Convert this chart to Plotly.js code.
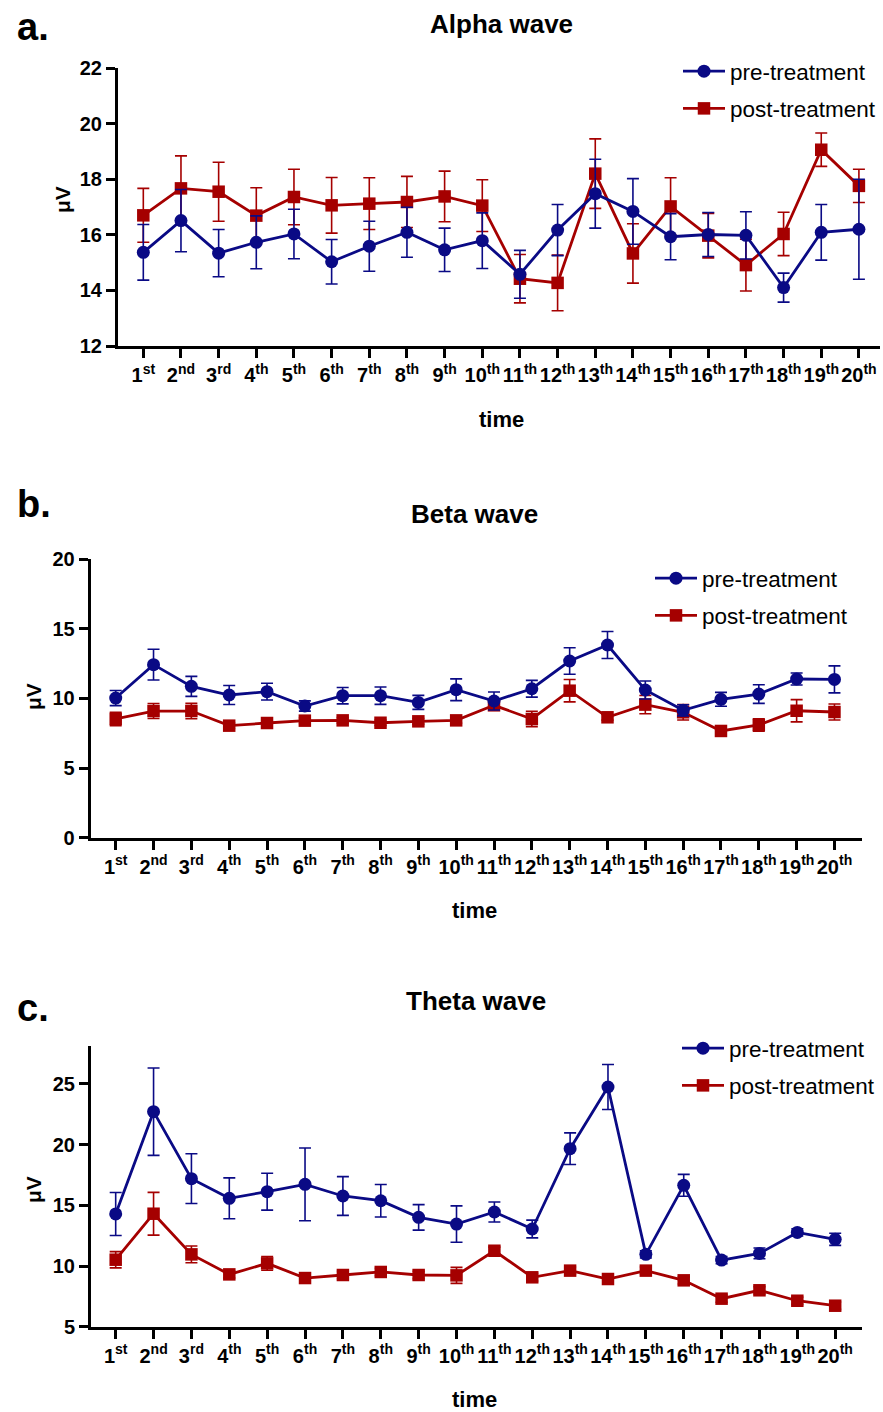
<!DOCTYPE html>
<html>
<head>
<meta charset="utf-8">
<script src="https://cdn.plot.ly/plotly-3.0.1.min.js"></script>
<style>
  html, body { margin: 0; padding: 0; background: #ffffff; }
  #chart { width: 883px; height: 1412px; }
</style>
</head>
<body>
<div id="chart"></div>
<script>
// Recording sessions shown on every x axis
const sessions = [
  "1<sup>st</sup>", "2<sup>nd</sup>", "3<sup>rd</sup>", "4<sup>th</sup>", "5<sup>th</sup>",
  "6<sup>th</sup>", "7<sup>th</sup>", "8<sup>th</sup>", "9<sup>th</sup>", "10<sup>th</sup>",
  "11<sup>th</sup>", "12<sup>th</sup>", "13<sup>th</sup>", "14<sup>th</sup>", "15<sup>th</sup>",
  "16<sup>th</sup>", "17<sup>th</sup>", "18<sup>th</sup>", "19<sup>th</sup>", "20<sup>th</sup>"
];

// Alpha wave amplitude (µV), mean and error
const alphaPre     = [15.37, 16.51, 15.34, 15.73, 16.03, 15.03, 15.59, 16.09, 15.46, 15.79, 14.58, 16.17, 17.48, 16.84, 15.93, 16.01, 15.98, 14.10, 16.09, 16.20];
const alphaPreErr  = [1.00, 1.12, 0.85, 0.95, 0.89, 0.80, 0.90, 0.90, 0.78, 1.00, 0.86, 0.92, 1.24, 1.18, 0.83, 0.79, 0.85, 0.52, 1.00, 1.80];
const alphaPost    = [16.70, 17.67, 17.55, 16.69, 17.36, 17.06, 17.12, 17.18, 17.38, 17.05, 14.42, 14.27, 18.20, 15.33, 17.02, 15.97, 14.91, 16.03, 19.06, 17.76];
const alphaPostErr = [0.97, 1.17, 1.06, 1.00, 1.00, 1.00, 0.93, 0.92, 0.91, 0.93, 0.87, 1.00, 1.25, 1.07, 1.03, 0.80, 0.93, 0.78, 0.60, 0.60];

// Beta wave amplitude (µV)
const betaPre      = [10.02, 12.42, 10.86, 10.24, 10.48, 9.45, 10.19, 10.19, 9.71, 10.62, 9.81, 10.69, 12.68, 13.83, 10.60, 9.14, 9.93, 10.31, 11.39, 11.36];
const betaPreErr   = [0.54, 1.10, 0.72, 0.68, 0.60, 0.37, 0.59, 0.62, 0.50, 0.78, 0.65, 0.60, 0.95, 0.97, 0.65, 0.40, 0.50, 0.67, 0.43, 0.97];
const betaPost     = [8.52, 9.09, 9.09, 8.04, 8.23, 8.40, 8.42, 8.25, 8.35, 8.42, 9.50, 8.52, 10.55, 8.64, 9.55, 9.00, 7.66, 8.09, 9.11, 9.02];
const betaPostErr  = [0.48, 0.54, 0.55, 0.20, 0.20, 0.20, 0.20, 0.20, 0.20, 0.20, 0.30, 0.55, 0.80, 0.20, 0.65, 0.55, 0.15, 0.45, 0.80, 0.57];

// Theta wave amplitude (µV)
const thetaPre     = [14.29, 22.72, 17.20, 15.58, 16.13, 16.73, 15.77, 15.38, 14.01, 13.46, 14.45, 13.05, 19.67, 24.75, 10.96, 16.65, 10.49, 11.04, 12.77, 12.20];
const thetaPreErr  = [1.77, 3.60, 2.05, 1.68, 1.52, 3.00, 1.60, 1.34, 1.05, 1.50, 0.82, 0.73, 1.30, 1.85, 0.30, 0.90, 0.30, 0.44, 0.30, 0.50];
const thetaPost    = [10.52, 14.31, 10.96, 9.31, 10.22, 9.01, 9.26, 9.51, 9.26, 9.23, 11.26, 9.07, 9.62, 8.93, 9.62, 8.82, 7.31, 8.00, 7.14, 6.73];
const thetaPostErr = [0.67, 1.76, 0.69, 0.30, 0.57, 0.30, 0.30, 0.30, 0.30, 0.66, 0.30, 0.30, 0.30, 0.30, 0.30, 0.30, 0.30, 0.30, 0.30, 0.30];

const W = 883, H = 1412;
const FONT = "Liberation Sans, Arial, Helvetica, sans-serif";
const BLUE = "#0a0a85";
const RED = "#a50000";

// pixel -> paper helpers for placing panels and labels
const px = v => v / W;
const py = v => 1 - v / H;

function series(name, x, y, err, color, symbol, xa, ya, legend, rank) {
  return {
    type: "scatter", mode: "lines+markers", name: name,
    x: x, y: y, xaxis: xa, yaxis: ya,
    legend: legend, legendrank: rank, legendgroup: legend + name,
    line: { color: color, width: 2.8 },
    marker: { color: color, symbol: symbol, size: symbol === "square" ? 12.5 : 13 },
    error_y: { type: "data", array: err, visible: true, color: color, thickness: 1.6, width: 6 },
    cliponaxis: false
  };
}

const traces = [
  series("post-treatment", sessions, alphaPost, alphaPostErr, RED, "square", "x", "y", "legend", 2),
  series("pre-treatment", sessions, alphaPre, alphaPreErr, BLUE, "circle", "x", "y", "legend", 1),
  series("post-treatment", sessions, betaPost, betaPostErr, RED, "square", "x2", "y2", "legend2", 2),
  series("pre-treatment", sessions, betaPre, betaPreErr, BLUE, "circle", "x2", "y2", "legend2", 1),
  series("post-treatment", sessions, thetaPost, thetaPostErr, RED, "square", "x3", "y3", "legend3", 2),
  series("pre-treatment", sessions, thetaPre, thetaPreErr, BLUE, "circle", "x3", "y3", "legend3", 1)
];

function xAxis(domain, range, anchor) {
  return {
    domain: domain, range: range, anchor: anchor, type: "category",
    showline: true, linecolor: "#000", linewidth: 3,
    ticks: "outside", ticklen: 9, tickwidth: 3, tickcolor: "#000",
    showgrid: false, zeroline: false, fixedrange: true,
    tickfont: { family: FONT, size: 20, color: "#000", weight: "bold" }
  };
}
function yAxis(domain, range, dtick, anchor) {
  return {
    domain: domain, range: range, dtick: dtick, tick0: 0, anchor: anchor,
    showline: true, linecolor: "#000", linewidth: 3,
    ticks: "outside", ticklen: 9, tickwidth: 3, tickcolor: "#000",
    showgrid: false, zeroline: false, fixedrange: true,
    tickfont: { family: FONT, size: 20, color: "#000", weight: "bold" }
  };
}
function legendAt(left, top) {
  return {
    x: px(left), y: py(top), xanchor: "left", yanchor: "top",
    xref: "paper", yref: "paper",
    bgcolor: "rgba(0,0,0,0)", borderwidth: 0,
    traceorder: "grouped", tracegroupgap: 5, itemwidth: 42,
    font: { family: FONT, size: 22.5, color: "#000" }
  };
}
function text(t, x, y, size, opts) {
  return Object.assign({
    text: t, x: px(x), y: py(y), xref: "paper", yref: "paper",
    showarrow: false, xanchor: "center", yanchor: "middle",
    font: { family: FONT, size: size, color: "#000", weight: "bold" }
  }, opts || {});
}

const layout = {
  width: W, height: H,
  margin: { l: 0, r: 0, t: 0, b: 0 },
  paper_bgcolor: "#fff", plot_bgcolor: "#fff",
  showlegend: true,
  xaxis:  xAxis([px(118), px(880)], [-0.672, 19.56], "y"),
  yaxis:  yAxis([py(346), py(68)], [12, 22], 2, "x"),
  xaxis2: xAxis([px(90.7), px(861.7)], [-0.661, 19.72], "y2"),
  yaxis2: yAxis([py(837.7), py(559)], [0, 20], 5, "x2"),
  xaxis3: xAxis([px(91), px(861.7)], [-0.652, 19.70], "y3"),
  yaxis3: yAxis([py(1326.7), py(1046)], [5, 28.13], 5, "x3"),
  legend:  legendAt(678, 50),
  legend2: legendAt(650, 557),
  legend3: legendAt(677, 1027),
  annotations: [
    text("a.", 15, 27, 38, { xanchor: "left" }),
    text("b.", 15, 504, 38, { xanchor: "left" }),
    text("c.", 15, 1008, 38, { xanchor: "left" }),
    text("Alpha wave", 501, 24, 26),
    text("Beta wave", 475, 514, 26),
    text("Theta wave", 476, 1001, 26),
    text("time", 501, 419, 22),
    text("time", 475, 910, 22),
    text("time", 475, 1399, 22),
    text("μV", 62, 200, 21, { textangle: -90 }),
    text("μV", 33, 697, 21, { textangle: -90 }),
    text("μV", 33, 1190, 21, { textangle: -90 })
  ]
};

Plotly.newPlot("chart", traces, layout, { staticPlot: true, displayModeBar: false });
</script>
</body>
</html>
